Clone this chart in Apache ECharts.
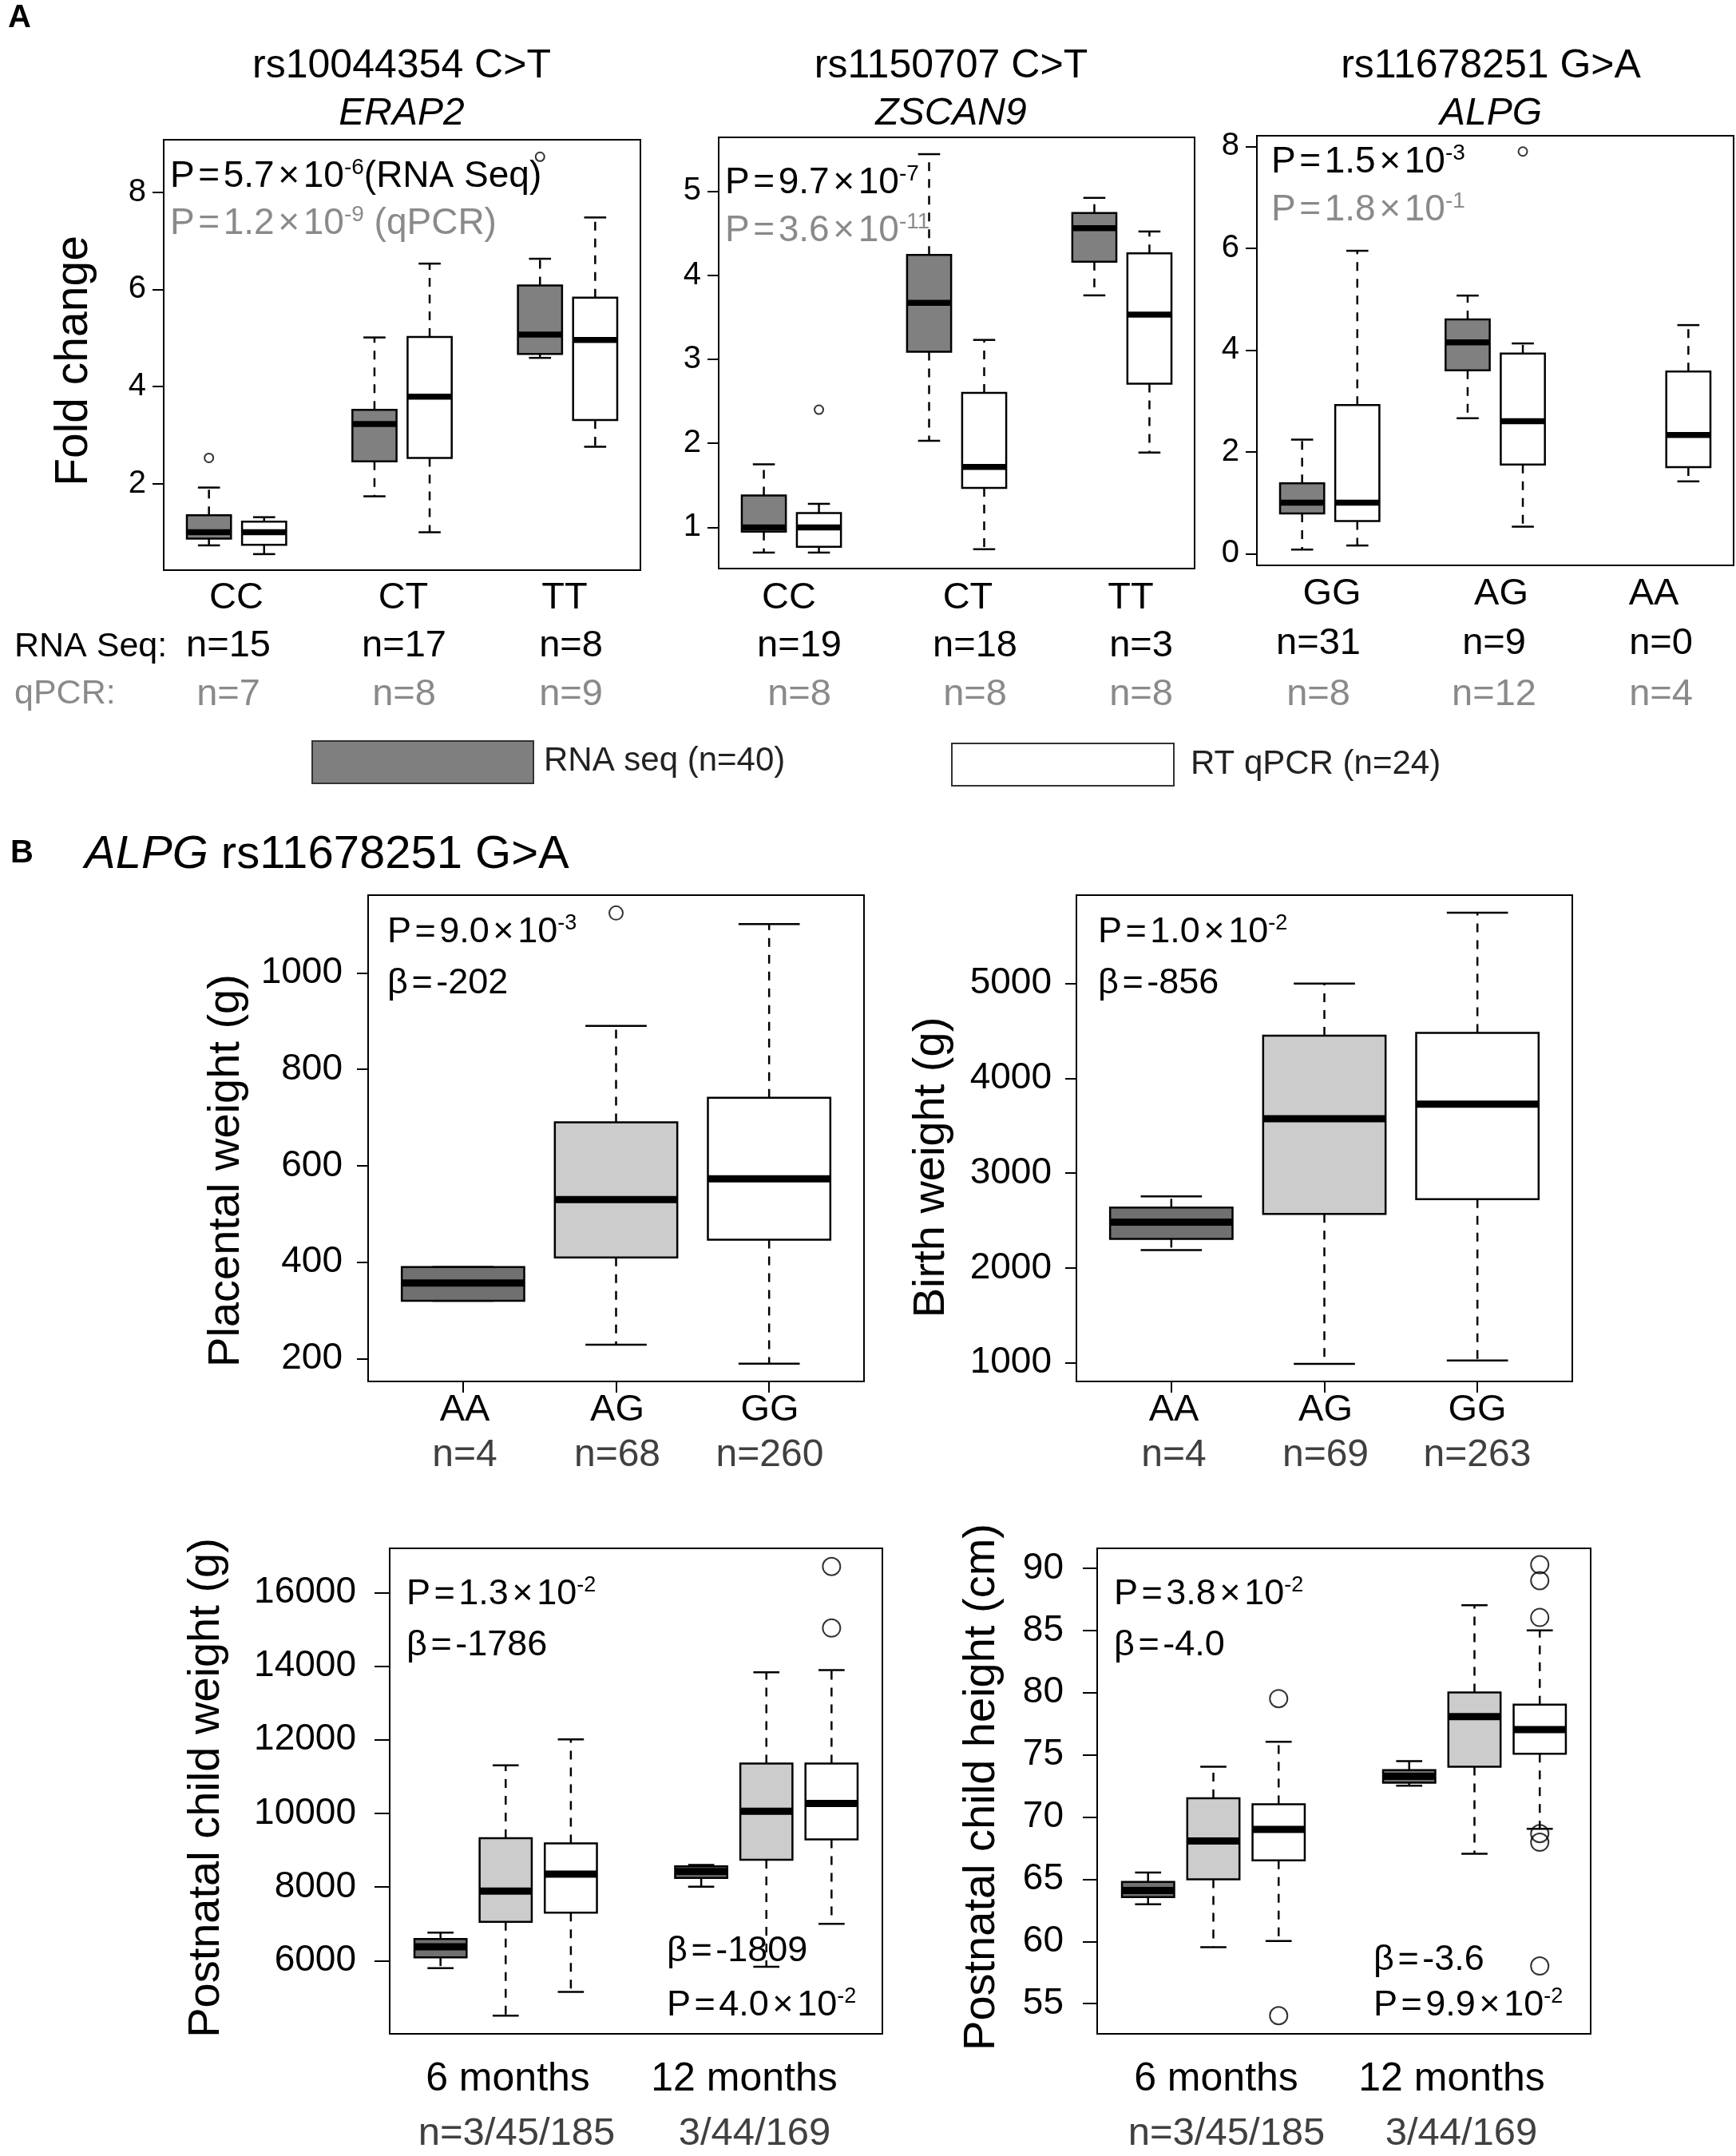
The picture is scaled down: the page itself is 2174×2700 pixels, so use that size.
<!DOCTYPE html>
<html><head><meta charset="utf-8">
<script src="https://cdn.jsdelivr.net/npm/echarts@6/dist/echarts.min.js"></script>
<style>html,body{margin:0;padding:0;background:#fff}#c{width:2174px;height:2700px}</style>
</head><body><div id="c"></div>
<script>
// ================= DATA =================
// Panel A : fold change boxplots [low whisker, Q1, median, Q3, high whisker]
const a1Genotypes = ['CC', 'CT', 'TT'];
const a1RnaN = ['n=15', 'n=17', 'n=8'];
const a1QpcrN = ['n=7', 'n=8', 'n=9'];
const a1Rna = [[0.73, 0.87, 1.00, 1.35, 1.92], [1.74, 2.46, 3.23, 3.52, 5.01], [4.59, 4.67, 5.07, 6.08, 6.63]];
const a1Qpcr = [[0.55, 0.74, 1.00, 1.22, 1.31], [1.00, 2.53, 3.79, 5.02, 6.53], [2.76, 3.31, 4.96, 5.83, 7.48]];
const a1RnaOut = [[0, 2.53], [2, 8.73]];      // [genotype index, value]
const a1QpcrOut = [];
const a1Ticks = [2, 4, 6, 8];

const a2Genotypes = ['CC', 'CT', 'TT'];
const a2RnaN = ['n=19', 'n=18', 'n=3'];
const a2QpcrN = ['n=8', 'n=8', 'n=8'];
const a2Rna = [[0.70, 0.95, 1.00, 1.38, 1.75], [2.03, 3.09, 3.67, 4.24, 5.44], [3.76, 4.16, 4.56, 4.74, 4.92]];
const a2Qpcr = [[0.70, 0.77, 1.00, 1.17, 1.28], [0.74, 1.47, 1.72, 2.60, 3.23], [1.89, 2.71, 3.53, 4.26, 4.52]];
const a2RnaOut = [];
const a2QpcrOut = [[0, 2.40]];
const a2Ticks = [1, 2, 3, 4, 5];

const a3Genotypes = ['GG', 'AG', 'AA'];
const a3RnaN = ['n=31', 'n=9', 'n=0'];
const a3QpcrN = ['n=8', 'n=12', 'n=4'];
const a3Rna = [[0.08, 0.79, 1.00, 1.38, 2.24], [2.66, 3.60, 4.15, 4.60, 5.07], null];
const a3Qpcr = [[0.16, 0.64, 1.00, 2.92, 5.95], [0.53, 1.75, 2.60, 3.93, 4.13], [1.42, 1.70, 2.33, 3.58, 4.49]];
const a3RnaOut = [];
const a3QpcrOut = [[1, 7.90]];
const a3Ticks = [0, 2, 4, 6, 8];

// Panel B
const bGenotypes = ['AA', 'AG', 'GG'];
const b1N = ['n=4', 'n=68', 'n=260'];
const b1Box = [[320, 320, 357, 390, 390], [229, 410, 530, 690, 890], [190, 447, 573, 741, 1101]];
const b1Out = [[1, 1124]];
const b1Ticks = [200, 400, 600, 800, 1000];

const b2N = ['n=4', 'n=69', 'n=263'];
const b2Box = [[2189, 2308, 2483, 2637, 2755], [990, 2570, 3574, 4449, 5000], [1026, 2725, 3728, 4480, 5746]];
const b2Out = [];
const b2Ticks = [1000, 2000, 3000, 4000, 5000];

const bTimes = ['6 months', '12 months'];
const bTimeN = ['n=3/45/185', '3/44/169'];
// [time][genotype] -> [low, Q1, median, Q3, high]
const b3Box = [
  [[5800, 6094, 6380, 6588, 6765], [4506, 7059, 7894, 9329, 11306], [5153, 7306, 8353, 9188, 12012]],
  [[8012, 8247, 8424, 8565, 8600], [5835, 8741, 10059, 11353, 13835], [7000, 9294, 10271, 11353, 13894]]
];
const b3Out = [[1, 2, 15035], [1, 2, 16706]];   // [time, genotype, value]
const b3Ticks = [6000, 8000, 10000, 12000, 14000, 16000];

const b4Box = [
  [[62.98, 63.57, 64.09, 64.78, 65.54], [59.54, 64.99, 68.08, 71.51, 74.04], [60.03, 66.52, 69.01, 71.03, 76.05]],
  [[72.52, 72.76, 73.28, 73.77, 74.49], [67.04, 74.04, 78.07, 80.01, 87.02], [69.05, 75.08, 77.03, 79.04, 85.00]]
];
const b4Out = [[0, 2, 79.52], [0, 2, 54.03], [1, 2, 90.28], [1, 2, 89.00], [1, 2, 86.04], [1, 2, 68.67], [1, 2, 67.97], [1, 2, 58.02]];
const b4Ticks = [55, 60, 65, 70, 75, 80, 85, 90];

// ================= LAYOUT / STYLE =================
const FONT = '"Liberation Sans", Arial, Helvetica, sans-serif';
const GRAY_A = '#808080', GRAY_DARK = '#707070', GRAY_LIGHT = '#cccccc';
const QPCR_TXT = '#8a8a8a', N_TXT = '#404040';

const panels = [
  {left: 205, top: 175, width: 597, height: 539, xmin: 0.18, xmax: 8.82, ymin: 0.22, ymax: 9.08, ticks: a1Ticks, fs: 40, margin: 22, tick: 14, xt: null},
  {left: 900, top: 172, width: 596, height: 540, xmin: 0.18, xmax: 8.82, ymin: 0.51, ymax: 5.64, ticks: a2Ticks, fs: 40, margin: 22, tick: 14, xt: null},
  {left: 1574, top: 170, width: 597, height: 538, xmin: 0.18, xmax: 8.82, ymin: -0.23, ymax: 8.21, ticks: a3Ticks, fs: 40, margin: 22, tick: 14, xt: null},
  {left: 461, top: 1121, width: 621, height: 609, xmin: 0.38, xmax: 3.62, ymin: 153, ymax: 1161, ticks: b1Ticks, fs: 46, margin: 32, tick: 14, xt: [1, 2, 3]},
  {left: 1348, top: 1121, width: 621, height: 609, xmin: 0.38, xmax: 3.62, ymin: 804, ymax: 5932, ticks: b2Ticks, fs: 46, margin: 31, tick: 14, xt: [1, 2, 3]},
  {left: 488, top: 1939, width: 617, height: 608, xmin: 0.22, xmax: 7.78, ymin: 4015, ymax: 17200, ticks: b3Ticks, fs: 46, margin: 42, tick: 19, xt: null},
  {left: 1374, top: 1939, width: 618, height: 608, xmin: 0.22, xmax: 7.78, ymin: 52.57, ymax: 91.6, ticks: b4Ticks, fs: 46, margin: 42, tick: 18, xt: null}
];

const grids = [], xAxes = [], yAxes = [];
panels.forEach((p, i) => {
  grids.push({left: p.left, top: p.top, width: p.width, height: p.height, show: true,
    borderColor: '#000', borderWidth: 2, backgroundColor: 'rgba(0,0,0,0)'});
  xAxes.push({gridIndex: i, type: 'value', min: p.xmin, max: p.xmax, position: 'bottom',
    axisLine: {show: false}, splitLine: {show: false},
    axisTick: p.xt ? {show: true, inside: false, length: 14, customValues: p.xt, lineStyle: {color: '#000', width: 2}} : {show: false},
    axisLabel: {show: false}});
  yAxes.push({gridIndex: i, type: 'value', min: p.ymin, max: p.ymax,
    axisLine: {show: false}, splitLine: {show: false},
    axisTick: {show: true, inside: false, length: p.tick, customValues: p.ticks, lineStyle: {color: '#000', width: 2}},
    axisLabel: {show: true, customValues: p.ticks, fontSize: p.fs, fontFamily: FONT, color: '#000', margin: p.margin,
      formatter: v => String(v)}});
});

// ================= SERIES =================
function boxSeries(name, gi, data, fill, lw, medW) {
  return {
    type: 'custom', name, xAxisIndex: gi, yAxisIndex: gi, data,
    encode: {x: 0, y: [1, 2, 3, 4, 5]}, silent: true, z: 3,
    renderItem(params, api) {
      const x = api.value(0);
      const md = api.value(3);
      const px = v => api.coord([v, md])[0];
      const py = v => api.coord([x, v])[1];
      const xc = px(x), xl = px(x - 0.4), xr = px(x + 0.4), sl = px(x - 0.2), sr = px(x + 0.2);
      const yLo = py(api.value(1)), yQ1 = py(api.value(2)), yMd = py(md), yQ3 = py(api.value(4)), yHi = py(api.value(5));
      const solid = {stroke: '#000', lineWidth: lw, fill: null};
      const dashed = {stroke: '#000', lineWidth: lw, fill: null, lineDash: [11, 10]};
      return {type: 'group', children: [
        {type: 'line', shape: {x1: xc, y1: yQ3, x2: xc, y2: yHi}, style: dashed},
        {type: 'line', shape: {x1: xc, y1: yQ1, x2: xc, y2: yLo}, style: dashed},
        {type: 'line', shape: {x1: sl, y1: yHi, x2: sr, y2: yHi}, style: solid},
        {type: 'line', shape: {x1: sl, y1: yLo, x2: sr, y2: yLo}, style: solid},
        {type: 'rect', shape: {x: xl, y: yQ3, width: xr - xl, height: yQ1 - yQ3}, style: {fill, stroke: '#000', lineWidth: lw}},
        {type: 'line', shape: {x1: xl, y1: yMd, x2: xr, y2: yMd}, style: {stroke: '#000', lineWidth: medW, fill: null}}
      ]};
    }
  };
}
function outSeries(gi, data, size) {
  return {type: 'scatter', xAxisIndex: gi, yAxisIndex: gi, data, symbol: 'circle', symbolSize: size, silent: true, z: 4,
    itemStyle: {color: 'rgba(0,0,0,0)', borderColor: '#000', borderWidth: 2}};
}

const series = [];
// Panel A (RNA seq at 3i+1, qPCR at 3i+2)
[[a1Rna, a1Qpcr, a1RnaOut, a1QpcrOut], [a2Rna, a2Qpcr, a2RnaOut, a2QpcrOut], [a3Rna, a3Qpcr, a3RnaOut, a3QpcrOut]]
  .forEach(([rna, qp, ro, qo], gi) => {
    const g = [], w = [];
    rna.forEach((b, i) => { if (b) g.push([i * 3 + 1, ...b]); });
    qp.forEach((b, i) => { if (b) w.push([i * 3 + 2, ...b]); });
    series.push(boxSeries('RNA seq (n=40)', gi, g, GRAY_A, 2.5, 7.5));
    series.push(boxSeries('RT qPCR (n=24)', gi, w, '#ffffff', 2.5, 7.5));
    series.push(outSeries(gi, ro.map(o => [o[0] * 3 + 1, o[1]]).concat(qo.map(o => [o[0] * 3 + 2, o[1]])), 11));
  });
const bFills = [GRAY_DARK, GRAY_LIGHT, '#ffffff'];
// B1, B2
[[b1Box, b1Out], [b2Box, b2Out]].forEach(([boxes, outs], k) => {
  const gi = 3 + k;
  boxes.forEach((b, g) => series.push(boxSeries(bGenotypes[g], gi, [[g + 1, ...b]], bFills[g], 2.5, 9)));
  series.push(outSeries(gi, outs.map(o => [o[0] + 1, o[1]]), 17));
});
// B3, B4
[[b3Box, b3Out], [b4Box, b4Out]].forEach(([boxes, outs], k) => {
  const gi = 5 + k;
  bGenotypes.forEach((name, g) => {
    series.push(boxSeries(name, gi, boxes.map((tb, t) => [t * 4 + g + 1, ...tb[g]]), bFills[g], 2.5, 9));
  });
  series.push(outSeries(gi, outs.map(o => [o[0] * 4 + o[1] + 1, o[2]]), 22));
});

// ================= TEXT =================
const mctx = document.createElement('canvas').getContext('2d');
function textW(t, size, style, weight) {
  mctx.font = `${style || 'normal'} ${weight || 'normal'} ${size}px ${FONT}`;
  return mctx.measureText(t).width;
}
const gfx = [];
// parts: [text, kind]  kind: n normal, o operator (padded), s superscript, i italic
function line(x, baseline, parts, size, color, anchor, weight) {
  const items = parts.map(([t, k]) => {
    const fs = k === 's' ? Math.round(size * 0.6) : size;
    const pad = k === 'o' ? size * 0.1 : 0;
    const st = k === 'i' ? 'italic' : 'normal';
    return {t, k, fs, pad, st, w: textW(t, fs, st, weight)};
  });
  const total = items.reduce((s, it) => s + it.w + 2 * it.pad, 0);
  let cx = anchor === 'center' ? x - total / 2 : (anchor === 'right' ? x - total : x);
  items.forEach(it => {
    cx += it.pad;
    const base = it.k === 's' ? baseline - size * 0.38 : baseline;
    gfx.push({type: 'text', x: cx, y: base - 0.34 * it.fs, silent: true,
      style: {text: it.t, fontSize: it.fs, fontFamily: FONT, fontStyle: it.st, fontWeight: weight || 'normal',
        fill: color, align: 'left', verticalAlign: 'middle', textAlign: 'left', textVerticalAlign: 'middle'}});
    cx += it.w + it.pad;
  });
}
function txt(x, baseline, t, size, color, anchor, style, weight) {
  line(x, baseline, [[t, style === 'italic' ? 'i' : 'n']], size, color, anchor || 'center', weight);
}
function vtxt(x, y, t, size) {
  gfx.push({type: 'text', x, y, rotation: Math.PI / 2, silent: true,
    style: {text: t, fontSize: size, fontFamily: FONT, fill: '#000', align: 'center', verticalAlign: 'middle',
      textAlign: 'center', textVerticalAlign: 'middle'}});
}
function pval(x, baseline, mant, exp, size, color, tail) {
  const parts = [['P', 'n'], ['=', 'o'], [mant, 'n'], ['×', 'o'], ['10', 'n'], [exp, 's']];
  if (tail) parts.push([tail, 'n']);
  line(x, baseline, parts, size, color, 'left');
}
function beta(x, baseline, v, size) {
  line(x, baseline, [['β', 'n'], ['=', 'o'], [v, 'n']], size, '#000', 'left');
}

// Panel labels
txt(10, 37, 'A', 40, '#000', 'left', null, 'bold');
txt(13, 1083, 'B', 40, '#000', 'left', null, 'bold');

// Panel A titles
[['rs10044354 C>T', 'ERAP2', 503], ['rs1150707 C>T', 'ZSCAN9', 1191], ['rs11678251 G>A', 'ALPG', 1867]].forEach(([t1, t2, x]) => {
  txt(x, 100, t1, 50, '#000');
  txt(x, 159, t2, 48, '#000', 'center', 'italic');
});
vtxt(93, 452, 'Fold change', 57);
// P values
pval(213, 237, '5.7', '-6', 46, '#000', '(RNA Seq)');
pval(213, 296, '1.2', '-9', 46, QPCR_TXT, ' (qPCR)');
pval(908, 245, '9.7', '-7', 46, '#000');
pval(908, 305, '3.6', '-11', 46, QPCR_TXT);
pval(1592, 219, '1.5', '-3', 46, '#000');
pval(1592, 279, '1.8', '-1', 46, QPCR_TXT);
// genotype and n labels
const aLab = [
  {g: a1Genotypes, rn: a1RnaN, qn: a1QpcrN, gx: [296, 505, 707], nx: [286, 506, 715], gb: 765, nb: 825},
  {g: a2Genotypes, rn: a2RnaN, qn: a2QpcrN, gx: [988, 1212, 1416], nx: [1001, 1221, 1429], gb: 765, nb: 825},
  {g: a3Genotypes, rn: a3RnaN, qn: a3QpcrN, gx: [1668, 1880, 2071], nx: [1651, 1871, 2080], gb: 760, nb: 822}
];
aLab.forEach(L => {
  L.g.forEach((t, i) => txt(L.gx[i], L.gb, t, 47, '#000'));
  L.rn.forEach((t, i) => txt(L.nx[i], L.nb, t, 47, '#000'));
  L.qn.forEach((t, i) => txt(L.nx[i], 886, t, 47, QPCR_TXT));
});
txt(18, 825, 'RNA Seq:', 43, '#000', 'left');
txt(18, 884, 'qPCR:', 43, QPCR_TXT, 'left');
// legend
gfx.push({type: 'rect', shape: {x: 391, y: 928, width: 277, height: 53}, silent: true, style: {fill: '#7f7f7f', stroke: '#333', lineWidth: 2}});
txt(681, 968, 'RNA seq (n=40)', 42, '#222', 'left');
gfx.push({type: 'rect', shape: {x: 1192, y: 931, width: 278, height: 53}, silent: true, style: {fill: '#fff', stroke: '#333', lineWidth: 2}});
txt(1491, 972, 'RT qPCR (n=24)', 42, '#222', 'left');

// Panel B title
line(106, 1091, [['ALPG', 'i'], [' rs11678251 G>A', 'n']], 58, '#000', 'left');
// axis titles
vtxt(284, 1466, 'Placental weight (g)', 56);
vtxt(1167, 1462, 'Birth weight (g)', 56);
vtxt(259, 2239, 'Postnatal child weight (g)', 56);
vtxt(1230, 2238, 'Postnatal child height (cm)', 56);
// stats
pval(485, 1183, '9.0', '-3', 45, '#000'); beta(485, 1247, '-202', 45);
pval(1375, 1183, '1.0', '-2', 45, '#000'); beta(1375, 1247, '-856', 45);
pval(509, 2012, '1.3', '-2', 45, '#000'); beta(509, 2076, '-1786', 45);
beta(835, 2459, '-1809', 45); pval(835, 2527, '4.0', '-2', 45, '#000');
pval(1395, 2012, '3.8', '-2', 45, '#000'); beta(1395, 2076, '-4.0', 45);
beta(1720, 2470, '-3.6', 45); pval(1720, 2527, '9.9', '-2', 45, '#000');
// genotype / n labels
[[b1N, [582, 773, 964]], [b2N, [1470, 1660, 1850]]].forEach(([ns, xs]) => {
  bGenotypes.forEach((g, i) => txt(xs[i], 1782, g, 47, '#000'));
  ns.forEach((n, i) => txt(xs[i], 1839, n, 48, N_TXT));
});
[[[636, 932], [647, 945]], [[1523, 1818], [1536, 1830]]].forEach(([tx, nx]) => {
  bTimes.forEach((t, i) => txt(tx[i], 2621, t, 50, '#000'));
  bTimeN.forEach((t, i) => txt(nx[i], 2689, t, 49, N_TXT));
});

// ================= CHART =================
const chart = echarts.init(document.getElementById('c'), null, {renderer: 'canvas'});
chart.setOption({
  animation: false,
  backgroundColor: '#ffffff',
  textStyle: {fontFamily: FONT},
  grid: grids, xAxis: xAxes, yAxis: yAxes, series,
  graphic: {elements: gfx}
});
</script></body></html>
